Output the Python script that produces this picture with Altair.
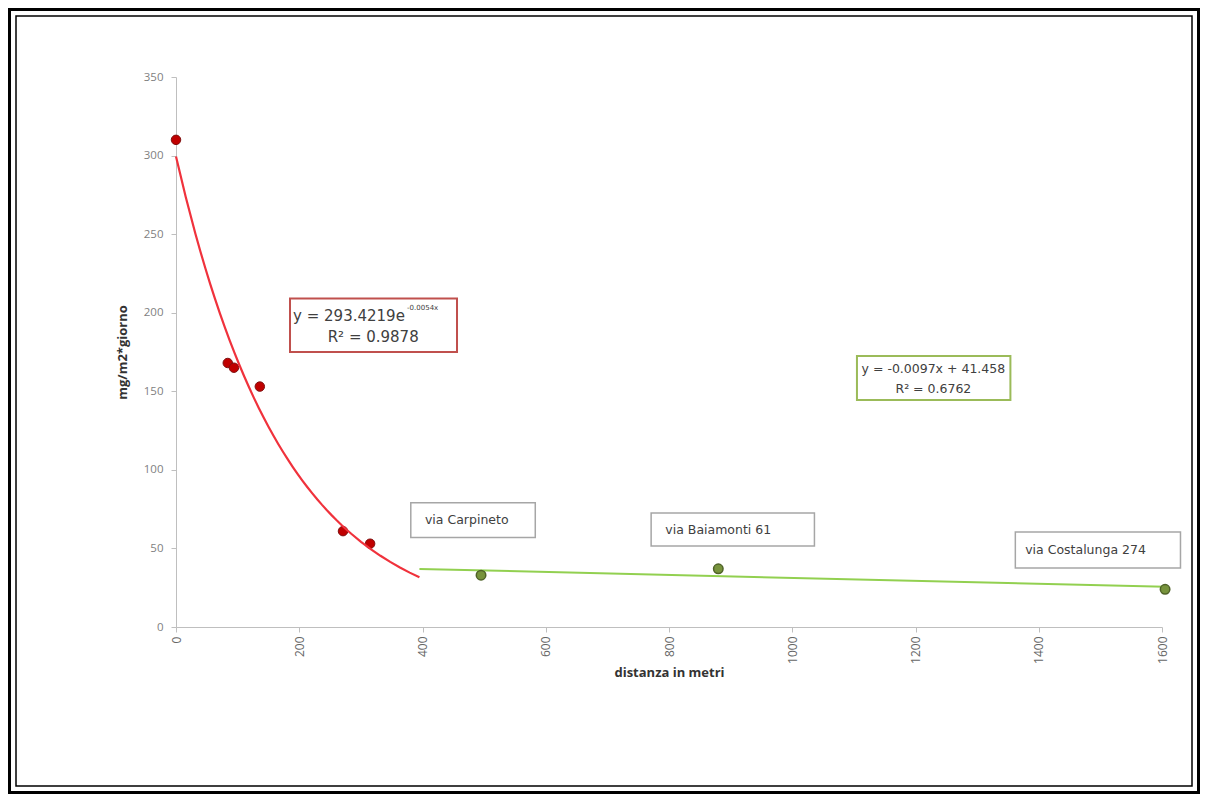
import altair as alt
import pandas as pd

# ---- data ----
red_dist = [0, 84, 94, 136, 271, 315]
red_val = [310, 168, 165, 153, 61, 53]

green_dist = [495, 880, 1605]
green_val = [33, 37, 24]
green_names = ["via Carpineto", "via Baiamonti 61", "via Costalunga 274"]

x_ticks = [0, 200, 400, 600, 800, 1000, 1200, 1400, 1600]
y_ticks = [0, 50, 100, 150, 200, 250, 300, 350]

exp_eq = "y = 293.4219e"
exp_sup = "-0.0054x"
exp_r2 = "R² = 0.9878"
lin_eq = "y = -0.0097x + 41.458"
lin_r2 = "R² = 0.6762"

# annotation placement (data coordinates)
box_x1 = [185, 1105, 381, 771, 1362]
box_x2 = [456, 1354, 583, 1036, 1630]
box_y1 = [175, 144.5, 57, 51.5, 37.5]
box_y2 = [209, 172.5, 79, 72.5, 60.5]
box_col = ["#c0504d", "#9bbb59", "#a6a6a6", "#a6a6a6", "#a6a6a6"]
box_sw = [2, 2, 1.5, 1.5, 1.5]

red_df = pd.DataFrame({"dist": red_dist, "val": red_val})
green_df = pd.DataFrame({"dist": green_dist, "val": green_val})
box_df = pd.DataFrame({"x1": box_x1, "x2": box_x2, "y1": box_y1, "y2": box_y2,
                       "col": box_col, "sw": box_sw})

FONT = "Open Sans"
AFONT = "DejaVu Sans"
TXT = "#404040"

xs = alt.Scale(domain=[0, 1600], nice=False, zero=False)
ys = alt.Scale(domain=[0, 350], nice=False)

x_axis = alt.Axis(values=x_ticks, labelAngle=270, title="distanza in metri", format="d",
                  grid=False, domainColor="#bfbfbf", tickColor="#bfbfbf", tickSize=5,
                  labelColor="#666666", labelFontSize=12, labelFont=FONT, labelPadding=4,
                  titleFont=FONT, titleFontSize=13, titleFontWeight="bold",
                  titleColor="#333333", titlePadding=3)
y_axis = alt.Axis(values=y_ticks, title="mg/m2*giorno", grid=False,
                  domainColor="#bfbfbf", tickColor="#bfbfbf", tickSize=5,
                  labelColor="#7f7f7f", labelFontSize=11.5, labelFont=FONT, labelPadding=8,
                  titleFont=FONT, titleFontSize=13, titleFontWeight="bold",
                  titleColor="#333333", titlePadding=14)


def X(f):
    return alt.X(f, scale=xs, axis=x_axis)


def Y(f):
    return alt.Y(f, scale=ys, axis=y_axis)


red_pts = alt.Chart(red_df).mark_point(filled=True, size=90, color="#c00000",
                                       stroke="#7f1010", strokeWidth=1, opacity=1).encode(
    x=X("dist:Q"), y=Y("val:Q"))

red_fit = alt.Chart(red_df).transform_regression(
    "dist", "val", method="exp", extent=[0, 395]
).mark_line(color="#f0323c", strokeWidth=2.2).encode(x=X("dist:Q"), y=Y("val:Q"))

green_fit = alt.Chart(green_df).transform_regression(
    "dist", "val", method="linear", extent=[395, 1605]
).mark_line(color="#92d050", strokeWidth=2).encode(x=X("dist:Q"), y=Y("val:Q"))

green_pts = alt.Chart(green_df).mark_point(filled=True, size=90, color="#77933c",
                                           stroke="#4f6228", strokeWidth=1.5, opacity=1).encode(
    x=X("dist:Q"), y=Y("val:Q"))

boxes = alt.Chart(box_df).mark_rect(fill="white", clip=False).encode(
    x=X("x1:Q"), x2="x2:Q",
    y=Y("y1:Q"), y2="y2:Q",
    stroke=alt.Color("col:N", scale=None),
    strokeWidth=alt.StrokeWidth("sw:Q", scale=None),
)


def txt(x, y, s, size, align="left"):
    return alt.Chart(pd.DataFrame({"x": [x], "y": [y], "t": [s]})).mark_text(
        font=AFONT, fontSize=size, color=TXT, align=align, baseline="middle"
    ).encode(x=X("x:Q"), y=Y("y:Q"), text="t:N")


texts = [
    txt(190, 198, exp_eq, 15),
    txt(375, 203, exp_sup, 7),
    txt(320, 184.5, exp_r2, 15, align="center"),
    txt(1229, 164, lin_eq, 12.5, align="center"),
    txt(1229, 151.5, lin_r2, 12.5, align="center"),
]
lab_x = [404, 794, 1378]
lab_y = [68, 61.7, 49]
for lx, ly, nm in zip(lab_x, lab_y, green_names):
    texts.append(txt(lx, ly, nm, 12.5))

frame_df = pd.DataFrame({"a": [0]})
frame_outer = alt.Chart(frame_df).mark_rect(filled=False, stroke="black", strokeWidth=3, clip=False).encode(
    x=alt.value(-166.5), x2=alt.value(1022.5), y=alt.value(-67.5), y2=alt.value(715.5))
frame_inner = alt.Chart(frame_df).mark_rect(filled=False, stroke="black", strokeWidth=1.5, clip=False).encode(
    x=alt.value(-160), x2=alt.value(1016), y=alt.value(-61), y2=alt.value(709))

chart = alt.layer(
    red_pts, frame_outer, frame_inner, boxes, red_fit, green_fit, green_pts, *texts
).properties(
    width=986, height=550,
    autosize=alt.AutoSizeParams(type="none"),
    padding={"left": 168, "top": 69, "right": 38, "bottom": 167},
    background="white",
).configure_view(strokeWidth=0)

chart.save("out.html", embed_options={"renderer": "svg", "actions": False})
